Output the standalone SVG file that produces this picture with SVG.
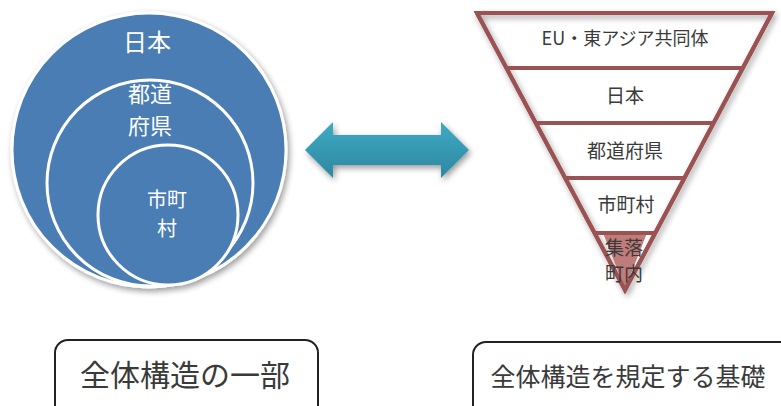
<svg xmlns="http://www.w3.org/2000/svg" width="781" height="406" viewBox="0 0 781 406">
<defs>
<style>
.c{fill:#4a7db3;stroke:#ffffff;stroke-width:3}
.wt{fill:#ffffff;font-family:"Noto Sans CJK JP","Noto Sans",sans-serif;text-anchor:middle}
.dt{fill:#3a3a3a;font-family:"Noto Sans CJK JP","Noto Sans",sans-serif;text-anchor:middle}
.tl{stroke:#9b5252;stroke-width:4;fill:none}
.box{fill:#ffffff;stroke:#222222;stroke-width:2}
</style>
<linearGradient id="ag" x1="0" y1="0" x2="0" y2="1">
<stop offset="0" stop-color="#3eaac4"/>
<stop offset="1" stop-color="#2f87a0"/>
</linearGradient>
<filter id="sh" x="-10%" y="-10%" width="125%" height="125%">
<feGaussianBlur in="SourceAlpha" stdDeviation="3"/>
<feOffset dx="2" dy="3" result="b"/>
<feComponentTransfer><feFuncA type="linear" slope="0.4"/></feComponentTransfer>
<feMerge><feMergeNode/><feMergeNode in="SourceGraphic"/></feMerge>
</filter>
</defs>
<rect width="781" height="406" fill="#ffffff"/>
<g id="circles" filter="url(#sh)">
<g id="japan"><circle class="c" cx="149" cy="150" r="137"/></g>
<g id="prefecture"><circle class="c" cx="150" cy="183" r="103"/></g>
<g id="municipality"><circle class="c" cx="168" cy="215" r="70"/></g>
</g>
<g id="circle-labels">
<text class="wt" x="147" y="51" font-size="24">日本</text>
<text class="wt" x="150" y="102" font-size="22">都道</text>
<text class="wt" x="150" y="134" font-size="22">府県</text>
<text class="wt" x="167" y="207" font-size="20">市町</text>
<text class="wt" x="167" y="236" font-size="20">村</text>
</g>
<g id="connectors">
<path filter="url(#sh)" d="M305,150 L333,122 L333,135 L441,135 L441,122 L469,150 L441,178 L441,165 L333,165 L333,178 Z" fill="url(#ag)"/>
</g>
<g id="pyramid">
<path class="tl" filter="url(#sh)" d="M477,13 L772,13 L625,290 Z" fill="#ffffff"/>
<path d="M603,233 L647,233 L625,289 Z" fill="#c07b7b"/>
<line class="tl" x1="506" y1="68" x2="743" y2="68"/>
<line class="tl" x1="535" y1="123" x2="714" y2="123"/>
<line class="tl" x1="564" y1="178" x2="685" y2="178"/>
<line class="tl" x1="594" y1="233" x2="656" y2="233"/>
<path class="tl" d="M477,13 L772,13 L625,290 Z"/>
</g>
<g id="pyramid-labels">
<text class="dt" x="625" y="45" font-size="18">EU・東アジア共同体</text>
<text class="dt" x="625" y="103" font-size="19">日本</text>
<text class="dt" x="625" y="158" font-size="19">都道府県</text>
<text class="dt" x="626" y="212" font-size="19">市町村</text>
<text class="dt" x="624" y="255" font-size="19" fill="#222">集落</text>
<text class="dt" x="624" y="281" font-size="19" fill="#222">町内</text>
</g>
<g id="box-left">
<rect class="box" x="55" y="340" width="263" height="90" rx="13"/>
<text class="dt" x="185" y="386" font-size="30" fill="#222">全体構造の一部</text>
</g>
<g id="box-right">
<rect class="box" x="473" y="342" width="330" height="90" rx="13"/>
<text class="dt" x="628" y="386" font-size="25" fill="#222">全体構造を規定する基礎</text>
</g>
</svg>
